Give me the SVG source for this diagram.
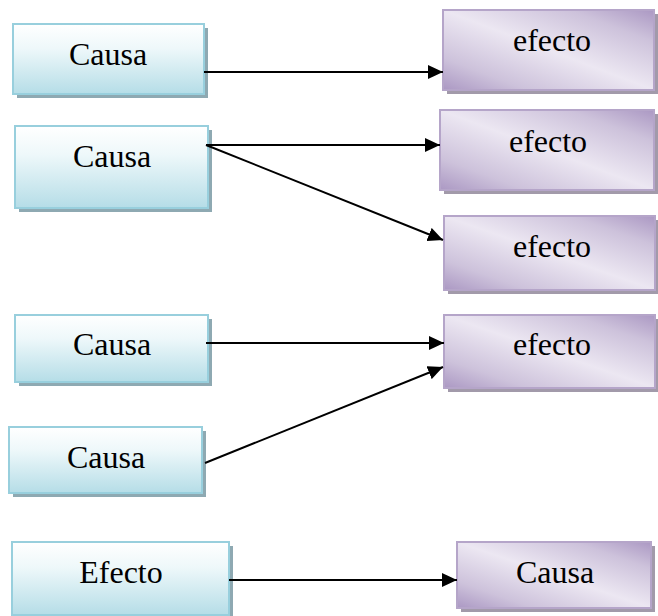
<svg xmlns="http://www.w3.org/2000/svg" width="658" height="616" viewBox="0 0 658 616">
<style>
.cb{fill:url(#gBlue);stroke:#98cfdd;stroke-width:2}
.cs{fill:#8ea9b2}
.eb{fill:url(#gPurple);stroke:#b5a5c9;stroke-width:2}
.es{fill:#a29aaa}
.t{font-family:"Liberation Serif","Times New Roman",serif;font-size:32px;fill:#000;text-anchor:middle}
.ln{stroke:#000;stroke-width:2;fill:none;marker-end:url(#ah)}
</style>
<defs>
<linearGradient id="gBlue" x1="0" y1="0" x2="0" y2="1">
<stop offset="0" stop-color="#ffffff"/>
<stop offset="0.35" stop-color="#eef8fa"/>
<stop offset="1" stop-color="#b5dde7"/>
</linearGradient>
<linearGradient id="gPurple" x1="0" y1="1" x2="1" y2="0">
<stop offset="0" stop-color="#ab98c3"/>
<stop offset="0.2" stop-color="#cdc2db"/>
<stop offset="0.5" stop-color="#ece7f2"/>
<stop offset="0.8" stop-color="#cdc2db"/>
<stop offset="1" stop-color="#ab98c3"/>
</linearGradient>
<marker id="ah" markerUnits="userSpaceOnUse" markerWidth="16" markerHeight="14" refX="15" refY="7" orient="auto">
<path d="M0,0 L15,7 L0,14 Z" fill="#000"/>
</marker>
</defs>
<g id="c1"><rect class="cs" x="17" y="28" width="191" height="70"/><rect class="cb" x="13" y="24" width="191" height="70"/><text class="t" x="108" y="65">Causa</text></g>
<g id="e1"><rect class="es" x="447" y="14" width="211" height="80"/><rect class="eb" x="443" y="10" width="211" height="80"/><text class="t" x="552" y="51">efecto</text></g>
<g id="c2"><rect class="cs" x="19" y="130" width="193" height="82"/><rect class="cb" x="15" y="126" width="193" height="82"/><text class="t" x="112" y="167">Causa</text></g>
<g id="e2"><rect class="es" x="444" y="114" width="214" height="80"/><rect class="eb" x="440" y="110" width="214" height="80"/><text class="t" x="548" y="152">efecto</text></g>
<g id="e3"><rect class="es" x="448" y="220" width="211" height="74"/><rect class="eb" x="444" y="216" width="211" height="74"/><text class="t" x="552" y="257">efecto</text></g>
<g id="c3"><rect class="cs" x="19" y="319" width="193" height="67"/><rect class="cb" x="15" y="315" width="193" height="67"/><text class="t" x="112" y="355">Causa</text></g>
<g id="e4"><rect class="es" x="448" y="319" width="211" height="73"/><rect class="eb" x="444" y="315" width="211" height="73"/><text class="t" x="552" y="355">efecto</text></g>
<g id="c4"><rect class="cs" x="13" y="431" width="193" height="66"/><rect class="cb" x="9" y="427" width="193" height="66"/><text class="t" x="106" y="468">Causa</text></g>
<g id="c5"><rect class="cs" x="16" y="546" width="217" height="73"/><rect class="cb" x="12" y="542" width="217" height="73"/><text class="t" x="121" y="583">Efecto</text></g>
<g id="e5"><rect class="es" x="461" y="546" width="194" height="66"/><rect class="eb" x="457" y="542" width="194" height="66"/><text class="t" x="555" y="583">Causa</text></g>
<g id="connectors">
<line class="ln" x1="204" y1="72" x2="443" y2="72"/>
<line class="ln" x1="206" y1="145" x2="440" y2="145"/>
<line class="ln" x1="206" y1="145" x2="443" y2="240"/>
<line class="ln" x1="206" y1="343" x2="444" y2="343"/>
<line class="ln" x1="205" y1="463" x2="443" y2="367"/>
<line class="ln" x1="229" y1="580" x2="457" y2="580"/>
</g>
</svg>
